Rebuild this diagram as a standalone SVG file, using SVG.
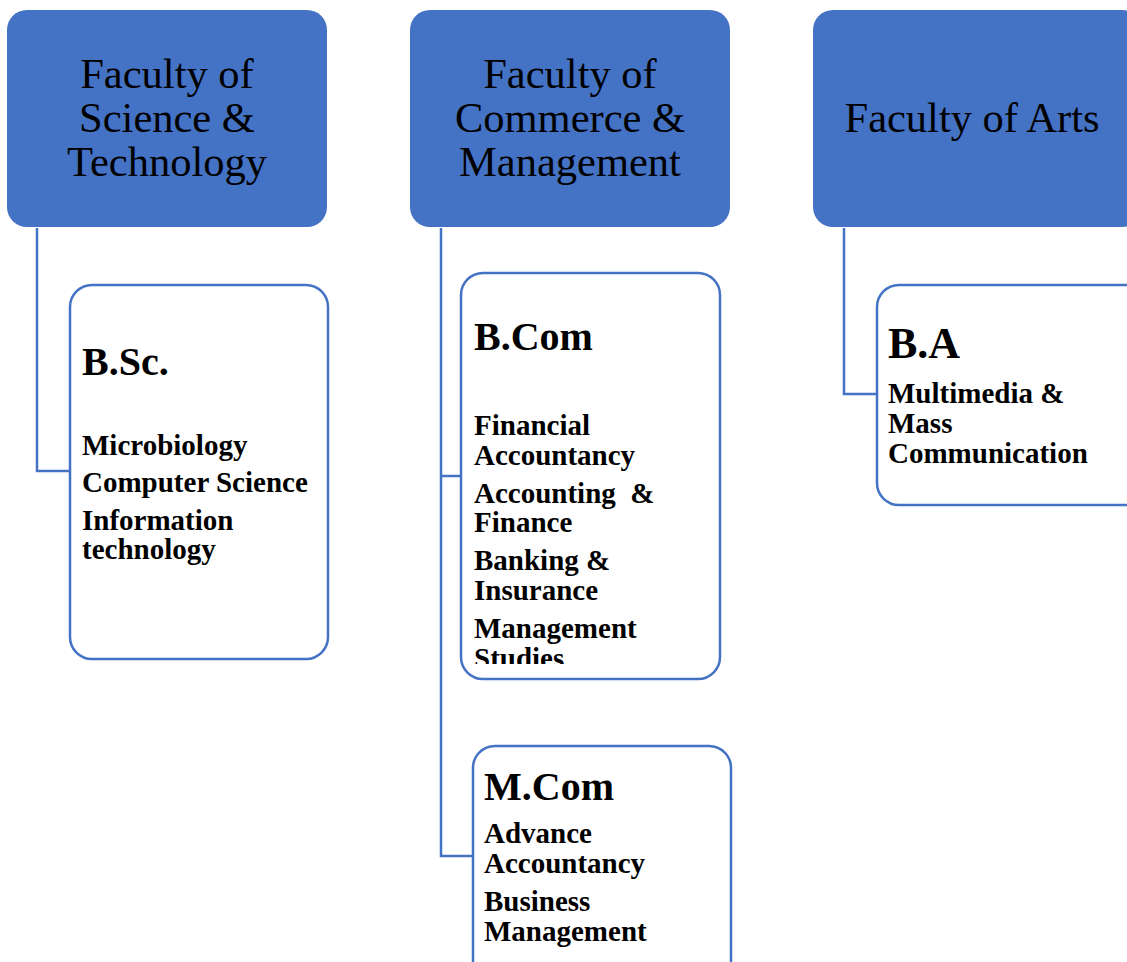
<svg xmlns="http://www.w3.org/2000/svg" width="1127" height="962" viewBox="0 0 1127 962">
<style>
.fac{fill:#4472C4;}
.facT{font-family:"Liberation Serif","Times New Roman",serif;font-size:42.5px;fill:#000;text-anchor:middle;}
.prog{fill:#fff;stroke:#4472C4;stroke-width:2.5;}
.h{font-family:"Liberation Serif","Times New Roman",serif;font-weight:bold;font-size:40px;fill:#000;}
.s{font-family:"Liberation Serif","Times New Roman",serif;font-weight:bold;font-size:29px;fill:#000;}
.con{fill:none;stroke:#4472C4;stroke-width:2.5;}
</style>
<defs>
<clipPath id="clipBcom"><rect x="461" y="273" width="260" height="391"/></clipPath>
</defs>
<rect width="1127" height="962" fill="#fff"/>
<g id="connectors">
<polyline class="con" points="37,228 37,471 70,471"/>
<polyline class="con" points="441,228 441,856 473,856"/>
<line class="con" x1="441" y1="476" x2="461" y2="476"/>
<polyline class="con" points="844,228 844,394 877,394"/>
</g>
<g id="faculty-science">
<rect class="fac" x="7" y="10" width="320" height="217" rx="20"/>
<text class="facT" x="167" y="88">Faculty of</text>
<text class="facT" x="167" y="132">Science &amp;</text>
<text class="facT" x="167" y="176">Technology</text>
</g>
<g id="faculty-commerce">
<rect class="fac" x="410" y="10" width="320" height="217" rx="20"/>
<text class="facT" x="570" y="88">Faculty of</text>
<text class="facT" x="570" y="132">Commerce &amp;</text>
<text class="facT" x="570" y="176">Management</text>
</g>
<g id="faculty-arts">
<rect class="fac" x="813" y="10" width="330" height="217" rx="20"/>
<text class="facT" x="972" y="132">Faculty of Arts</text>
</g>
<g id="bsc">
<rect class="prog" x="70" y="285" width="258" height="374" rx="22"/>
<text class="h" x="82" y="375">B.Sc.</text>
<text class="s" x="82" y="455">Microbiology</text>
<text class="s" x="82" y="492">Computer Science</text>
<text class="s" x="82" y="530">Information</text>
<text class="s" x="82" y="559">technology</text>
</g>
<g id="bcom">
<rect class="prog" x="461" y="273" width="259" height="406" rx="22"/>
<text class="h" x="474" y="350">B.Com</text>
<g clip-path="url(#clipBcom)">
<text class="s" x="474" y="435">Financial</text>
<text class="s" x="474" y="465">Accountancy</text>
<text class="s" x="474" y="503" xml:space="preserve">Accounting  &amp;</text>
<text class="s" x="474" y="532">Finance</text>
<text class="s" x="474" y="570">Banking &amp;</text>
<text class="s" x="474" y="600">Insurance</text>
<text class="s" x="474" y="638">Management</text>
<text class="s" x="474" y="668">Studies</text>
</g>
</g>
<g id="mcom">
<rect class="prog" x="473" y="746" width="258" height="240" rx="22"/>
<text class="h" x="484" y="800">M.Com</text>
<text class="s" x="484" y="843">Advance</text>
<text class="s" x="484" y="873">Accountancy</text>
<text class="s" x="484" y="911">Business</text>
<text class="s" x="484" y="941">Management</text>
</g>
<g id="ba">
<rect class="prog" x="877" y="285" width="270" height="220" rx="22"/>
<text class="h" x="888" y="358" style="font-size:44px">B.A</text>
<text class="s" x="888" y="403">Multimedia &amp;</text>
<text class="s" x="888" y="433">Mass</text>
<text class="s" x="888" y="463">Communication</text>
</g>
</svg>
